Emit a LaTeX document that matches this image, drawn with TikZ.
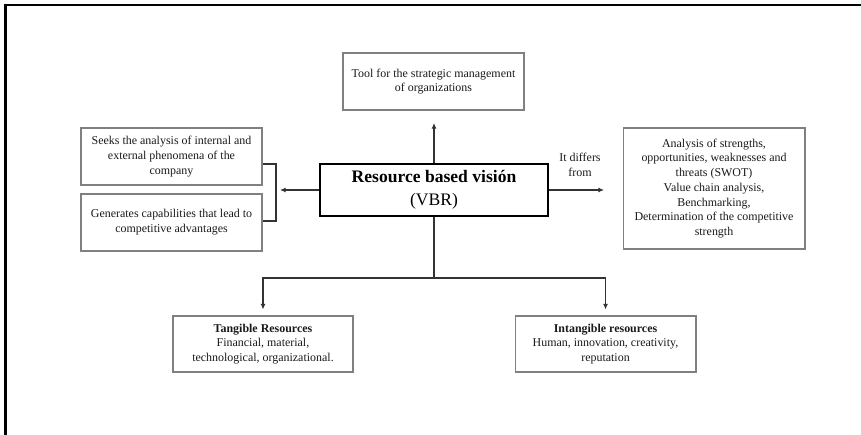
\documentclass[tikz,border=0pt]{standalone}
\usepackage{fontspec}
\setmainfont{Liberation Serif}
\usetikzlibrary{arrows.meta}
\tikzset{
  box/.style={draw=black!50,line width=.6pt,align=center,inner sep=0pt,
    text=black!90,font=\fontsize{6.8}{8.4}\selectfont},
  mainbox/.style={draw=black,line width=1.1pt,align=center,inner sep=0pt,
    minimum width=4.56cm,minimum height=1.04cm,font=\fontsize{10}{13}\selectfont},
  arr/.style={draw=black!80,line width=.6pt,-{Latex[length=3.2pt,width=2.8pt]}},
  link/.style={draw=black!80,line width=.6pt}
}
\begin{document}
\begin{tikzpicture}[x=.02cm,y=-.02cm]
\useasboundingbox (0,0) rectangle (861,435);
\draw[line width=1.3pt](5.5,435)--(5.5,5)--(861,5);

\node[mainbox](vbr) at (434,190){\textbf{Resource based visión}\\(VBR)};
\node[box,minimum width=3.62cm,minimum height=1.14cm](tool) at (433.5,81.5)
  {Tool for the strategic management\\of organizations};
\node[box,minimum width=3.62cm,minimum height=1.14cm](seeks) at (171.5,156.5)
  {Seeks the analysis of internal and\\external phenomena of the\\company};
\node[box,minimum width=3.62cm,minimum height=1.14cm](gen) at (171.5,222.5)
  {Generates capabilities that lead to\\competitive advantages};
\node[box,minimum width=3.64cm,minimum height=2.42cm](swot) at (714,188.5)
  {Analysis of strengths,\\opportunities, weaknesses and\\threats (SWOT)\\Value chain analysis,\\Benchmarking,\\Determination of the competitive\\strength};
\node[box,minimum width=3.6cm,minimum height=1.12cm](tang) at (263,344)
  {\textbf{Tangible Resources}\\Financial, material,\\technological, organizational.};
\node[box,minimum width=3.62cm,minimum height=1.12cm](intang) at (605.5,344)
  {\textbf{Intangible resources}\\Human, innovation, creativity,\\reputation};
\node[box,draw=none](differs) at (580,164.5){It differs\\from};

% free ends
\coordinate (up) at (434,123);
\coordinate (lft) at (280,190);
\coordinate (rgt) at (604,190);
\coordinate (split) at (434,278);

\draw[arr](vbr.north)--(up);
\draw[arr](vbr.west)--(lft);
\draw[arr](vbr.east)--(rgt);
\draw[link](seeks.east|-0,164)-|(276,221)--(gen.east|-0,221);
\draw[link](vbr.south)--(split);
\draw[arr](split)-|([yshift=3.4pt]tang.north);
\draw[arr](split)-|([yshift=3.4pt]intang.north);
\end{tikzpicture}
\end{document}
